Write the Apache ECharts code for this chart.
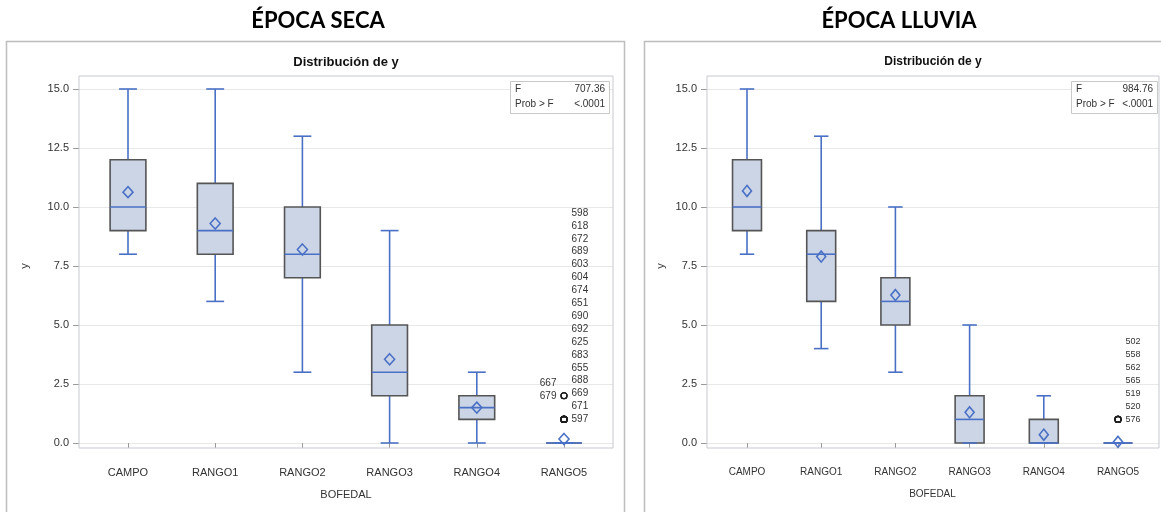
<!DOCTYPE html>
<html>
<head>
<meta charset="utf-8">
<script src="https://cdn.jsdelivr.net/npm/echarts@6/dist/echarts.min.js"></script>
<style>
  html, body { margin: 0; padding: 0; background: #ffffff; }
  #chart { width: 1161px; height: 512px; }
</style>
</head>
<body>
<div id="chart"></div>
<script>
// ---- data -------------------------------------------------------------
const categories = ['CAMPO', 'RANGO1', 'RANGO2', 'RANGO3', 'RANGO4', 'RANGO5'];

// Época seca: whisker ends, quartiles, median and mean per bofedal
const secaMin    = [8, 6, 3, 0, 0, 0];
const secaQ1     = [9, 8, 7, 2, 1, 0];
const secaMedian = [10, 9, 8, 3, 1.5, 0];
const secaQ3     = [12, 11, 10, 5, 2, 0];
const secaMax    = [15, 15, 13, 9, 3, 0];
const secaMean   = [10.63, 9.3, 8.2, 3.55, 1.5, 0.17];
const secaF      = '707.36';
const secaProb   = '<.0001';
// outliers of RANGO5 (observation number and value)
const secaOutlierIds    = ['597', '671', '688', '655', '683', '625', '692', '690', '651', '674', '604', '603', '689', '672', '618', '598', '669', '679', '667'];
const secaOutlierValues = [1, 1, 1, 1, 1, 1, 1, 1, 1, 1, 1, 1, 1, 1, 1, 1, 2, 2, 2];
// order in which the observation labels are stacked (bottom to top)
const secaRightColumn = ['597', '671', '669', '688', '655', '683', '625', '692', '690', '651', '674', '604', '603', '689', '672', '618', '598'];
const secaLeftColumn  = ['679', '667'];

// Época lluvia
const lluviaMin    = [8, 4, 3, 0, 0, 0];
const lluviaQ1     = [9, 6, 5, 0, 0, 0];
const lluviaMedian = [10, 8, 6, 1, 0, 0];
const lluviaQ3     = [12, 9, 7, 2, 1, 0];
const lluviaMax    = [15, 13, 10, 5, 2, 0];
const lluviaMean   = [10.68, 7.9, 6.27, 1.3, 0.35, 0.05];
const lluviaF      = '984.76';
const lluviaProb   = '<.0001';
const lluviaOutlierIds    = ['576', '520', '519', '565', '562', '558', '502'];
const lluviaOutlierValues = [1, 1, 1, 1, 1, 1, 1];
const lluviaRightColumn = ['576', '520', '519', '565', '562', '558', '502'];
const lluviaLeftColumn  = [];

// ---- styling ----------------------------------------------------------
const BLUE = '#4a70c6';
const BOX_FILL = '#cbd5e6';
const BOX_EDGE = '#555555';
const FRAME = '#c6c9cf';
const GRIDLINE = '#e8e8e8';
const TEXT = '#333333';
const SANS = '"Liberation Sans", Arial, sans-serif';

const Y_MAX = 15;
const PLOT_TOP = 89, PLOT_H = 354;        // value 15 .. value 0
const FRAME_TOP = 76, FRAME_H = 372;

const panels = [
  {
    title: 'ÉPOCA SECA', titleX: 318,
    frameLeft: 79, frameRight: 613, firstCenter: 128, lastCenter: 564,
    min: secaMin, q1: secaQ1, med: secaMedian, q3: secaQ3, max: secaMax, mean: secaMean,
    F: secaF, prob: secaProb,
    outIds: secaOutlierIds, outVals: secaOutlierValues,
    rightCol: secaRightColumn, leftCol: secaLeftColumn,
    labelStep: 12.9, catFont: 11, subFont: 13, statFont: 10, outFont: 10,
    yNameGap: 49, boxRatio: 0.41, diamond: [10, 11],
    statBox: { x: 510, y: 81, w: 99, h: 32 }
  },
  {
    title: 'ÉPOCA LLUVIA', titleX: 899,
    frameLeft: 707, frameRight: 1159, firstCenter: 747, lastCenter: 1118,
    min: lluviaMin, q1: lluviaQ1, med: lluviaMedian, q3: lluviaQ3, max: lluviaMax, mean: lluviaMean,
    F: lluviaF, prob: lluviaProb,
    outIds: lluviaOutlierIds, outVals: lluviaOutlierValues,
    rightCol: lluviaRightColumn, leftCol: lluviaLeftColumn,
    labelStep: 13, catFont: 10, subFont: 12, statFont: 10, outFont: 9,
    yNameGap: 41, boxRatio: 0.39, diamond: [9, 11],
    statBox: { x: 1071, y: 81, w: 86, h: 32 }
  }
];

const grid = [], xAxis = [], yAxis = [], series = [], graphic = [];

// outer panel borders
graphic.push(
  { type: 'rect', z: 0, shape: { x: 6.5, y: 41.5, width: 618, height: 490 },
    style: { fill: 'none', stroke: '#bdbdbd', lineWidth: 1.5 } },
  { type: 'rect', z: 0, shape: { x: 644.5, y: 41.5, width: 540, height: 490 },
    style: { fill: 'none', stroke: '#bdbdbd', lineWidth: 1.5 } }
);

function boxRenderer(ratio) {
  return function (params, api) {
    const i = api.value(0);
    const lo = api.coord([i, api.value(1)]);
    const q1 = api.coord([i, api.value(2)]);
    const md = api.coord([i, api.value(3)]);
    const q3 = api.coord([i, api.value(4)]);
    const hi = api.coord([i, api.value(5)]);
    const band = api.size([1, 0])[0];
    const bw = band * ratio;
    const cw = bw / 2;
    const x = lo[0];
    const line = (x1, y1, x2, y2) => ({
      type: 'line', shape: { x1, y1, x2, y2 },
      style: { stroke: BLUE, lineWidth: 1.6 }
    });
    return {
      type: 'group',
      children: [
        line(x, hi[1], x, q3[1]),
        line(x, q1[1], x, lo[1]),
        { type: 'rect', shape: { x: x - bw / 2, y: q3[1], width: bw, height: q1[1] - q3[1] },
          style: { fill: BOX_FILL, stroke: BOX_EDGE, lineWidth: 1.6 } },
        line(x - bw / 2, md[1], x + bw / 2, md[1]),
        line(x - cw / 2, hi[1], x + cw / 2, hi[1]),
        line(x - cw / 2, lo[1], x + cw / 2, lo[1])
      ]
    };
  };
}

panels.forEach((p, k) => {
  const g0 = k * 3;
  const band = (p.lastCenter - p.firstCenter) / (categories.length - 1);
  const catLeft = p.firstCenter - band / 2;
  const frameW = p.frameRight - p.frameLeft;

  // frame grid, value grid (ticks + gridlines), category grid (marks)
  grid.push(
    { left: p.frameLeft, top: FRAME_TOP, width: frameW, height: FRAME_H,
      show: true, borderColor: FRAME, borderWidth: 1, backgroundColor: 'transparent', z: 3 },
    { left: p.frameLeft, top: PLOT_TOP, width: frameW, height: PLOT_H },
    { left: catLeft, top: PLOT_TOP, width: band * categories.length, height: PLOT_H }
  );

  xAxis.push(
    { gridIndex: g0, type: 'value', show: false },
    { gridIndex: g0 + 1, type: 'value', show: false },
    { gridIndex: g0 + 2, type: 'category', data: categories, boundaryGap: true,
      offset: 5,
      axisLine: { show: false },
      axisTick: { show: true, alignWithLabel: true, length: 5, lineStyle: { color: '#9a9a9a' } },
      axisLabel: { fontSize: p.catFont, fontFamily: SANS, color: TEXT, margin: 19 },
      name: 'BOFEDAL', nameLocation: 'middle', nameGap: 41,
      nameTextStyle: { fontSize: p.catFont, fontFamily: SANS, color: TEXT } }
  );

  yAxis.push(
    { gridIndex: g0, type: 'value', show: false },
    { gridIndex: g0 + 1, type: 'value', min: 0, max: Y_MAX, interval: 2.5,
      axisLine: { show: false },
      axisTick: { show: true, length: 6, lineStyle: { color: '#9a9a9a' } },
      axisLabel: { fontSize: 11, fontFamily: SANS, color: TEXT, margin: 10,
                   formatter: v => v.toFixed(1) },
      splitLine: { show: true, lineStyle: { color: GRIDLINE, width: 1 } },
      name: 'y', nameLocation: 'middle', nameGap: p.yNameGap,
      nameTextStyle: { fontSize: 11, fontFamily: SANS, color: TEXT } },
    { gridIndex: g0 + 2, type: 'value', min: 0, max: Y_MAX, show: false }
  );

  const boxData = categories.map((c, i) => [i, p.min[i], p.q1[i], p.med[i], p.q3[i], p.max[i]]);
  series.push({
    type: 'custom', xAxisIndex: g0 + 2, yAxisIndex: g0 + 2, z: 2,
    renderItem: boxRenderer(p.boxRatio),
    encode: { x: 0, y: [1, 2, 3, 4, 5] },
    data: boxData, silent: true
  });

  series.push({
    type: 'scatter', xAxisIndex: g0 + 2, yAxisIndex: g0 + 2, z: 4,
    symbol: 'diamond', symbolSize: p.diamond,
    itemStyle: { color: 'rgba(0,0,0,0)', borderColor: BLUE, borderWidth: 1.6, opacity: 1 },
    data: p.mean.map((m, i) => [i, m]), silent: true
  });

  // outliers with stacked observation labels
  const pxPerUnit = PLOT_H / Y_MAX;
  const last = categories.length - 1;
  const baseOf = col => col.length ? p.outVals[p.outIds.indexOf(col[0])] : 0;
  const shifts = [];
  const outData = p.outIds.map((id, j) => {
    const v = p.outVals[j];
    let side = 'right', col = p.rightCol;
    if (p.leftCol.indexOf(id) >= 0) { side = 'left'; col = p.leftCol; }
    const slot = col.indexOf(id);
    shifts.push(-slot * p.labelStep + (v - baseOf(col)) * pxPerUnit);
    return {
      value: [last, v],
      label: { show: true, position: side, distance: 4, formatter: id }
    };
  });
  series.push({
    type: 'scatter', xAxisIndex: g0 + 2, yAxisIndex: g0 + 2, z: 5,
    symbol: 'circle', symbolSize: 6,
    itemStyle: { color: 'rgba(0,0,0,0)', borderColor: '#1e1e1e', borderWidth: 1.1, opacity: 1 },
    label: { fontSize: p.outFont, fontFamily: SANS, color: TEXT },
    labelLayout: params => ({ dy: shifts[params.dataIndex], hideOverlap: false }),
    data: outData, silent: true
  });

  // headings
  graphic.push(
    { type: 'text', x: p.titleX, y: 21, z: 10,
      style: { text: p.title, font: 'bold 22px Lato, "Open Sans", sans-serif', fill: '#000',
               textAlign: 'center', textVerticalAlign: 'middle' } },
    { type: 'text', x: p.frameLeft + frameW / 2, y: 62, z: 10,
      style: { text: 'Distribución de y', font: 'bold ' + p.subFont + 'px ' + SANS, fill: '#111',
               textAlign: 'center', textVerticalAlign: 'middle' } }
  );

  // ANOVA inset
  const b = p.statBox;
  graphic.push(
    { type: 'rect', z: 20, shape: { x: b.x + 0.5, y: b.y + 0.5, width: b.w, height: b.h },
      style: { fill: '#ffffff', stroke: '#c8c8c8', lineWidth: 1 } },
    { type: 'text', z: 21, x: b.x + 5, y: b.y + 8,
      style: { text: 'F', font: p.statFont + 'px ' + SANS, fill: TEXT, textVerticalAlign: 'middle' } },
    { type: 'text', z: 21, x: b.x + b.w - 4, y: b.y + 8,
      style: { text: p.F, font: p.statFont + 'px ' + SANS, fill: TEXT,
               textAlign: 'right', textVerticalAlign: 'middle' } },
    { type: 'text', z: 21, x: b.x + 5, y: b.y + 23,
      style: { text: 'Prob > F', font: p.statFont + 'px ' + SANS, fill: TEXT, textVerticalAlign: 'middle' } },
    { type: 'text', z: 21, x: b.x + b.w - 4, y: b.y + 23,
      style: { text: p.prob, font: p.statFont + 'px ' + SANS, fill: TEXT,
               textAlign: 'right', textVerticalAlign: 'middle' } }
  );
});

const chart = echarts.init(document.getElementById('chart'), null, { renderer: 'canvas' });
chart.setOption({
  backgroundColor: '#ffffff',
  animation: false,
  grid, xAxis, yAxis, series, graphic
});
</script>
</body>
</html>
